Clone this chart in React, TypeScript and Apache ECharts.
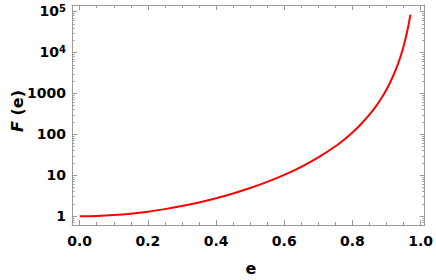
import React, { useEffect, useRef } from "react";
import * as echarts from "echarts";

const eValues = [0, 0.05, 0.1, 0.15, 0.2, 0.25, 0.3, 0.35, 0.4, 0.45, 0.5, 0.55, 0.6, 0.65, 0.7, 0.75, 0.78, 0.8, 0.82, 0.85, 0.87, 0.89, 0.9, 0.91, 0.93, 0.94, 0.95, 0.96, 0.965, 0.97];
const fValues = [1, 1.017, 1.067, 1.157, 1.295, 1.494, 1.776, 2.178, 2.76, 3.6, 4.88, 6.9, 10.2, 16.1, 27.3, 51.1, 79.6, 111, 160, 302, 497, 891, 1243, 1796, 4326, 7414, 14030, 30620, 48870, 83700];

const xMajorTicks = [0, 0.2, 0.4, 0.6, 0.8, 1.0];
const xMinorTicks = [0.05, 0.1, 0.15, 0.25, 0.3, 0.35, 0.45, 0.5, 0.55, 0.65, 0.7, 0.75, 0.85, 0.9, 0.95];
const yMajorTicks = [1, 10, 100, 1000, 10000, 100000];
const yMinorTicks: number[] = [];
[0.1, 1, 10, 100, 1000, 10000].forEach((d) => {
  for (let k = 2; k <= 9; k++) yMinorTicks.push(+(k * d).toPrecision(3));
});

const FONT = "DejaVu Sans";
const FRAME = "#9a9a9a";
const X_MIN = -0.0225;
const X_MAX = 1.012;
const Y_MIN = 0.612;
const Y_MAX = 144000;

function yLabel(v: number): string {
  const r = Math.round(v);
  if (r === 10000) return "{b|10}{s|4}";
  if (r === 100000) return "{b|10}{s|5}";
  return "{b|" + String(r) + "}";
}

export default function App() {
  const ref = useRef<HTMLDivElement>(null);
  useEffect(() => {
    if (!ref.current) return;
    const chart = echarts.init(ref.current, undefined, { renderer: "svg" });
    const xBase = (pos: "top" | "bottom", ticks: number[], len: number, labels: boolean, line: boolean) => ({
      type: "value",
      position: pos,
      min: X_MIN,
      max: X_MAX,
      gridIndex: 0,
      axisLine: { show: line, onZero: false, lineStyle: { color: FRAME, width: 1 } },
      axisTick: { show: true, inside: true, length: len, customValues: ticks, lineStyle: { color: FRAME, width: 1 } },
      axisLabel: labels
        ? {
            show: true,
            customValues: xMajorTicks,
            formatter: (v: number) => v.toFixed(1),
            color: "#000",
            fontFamily: FONT,
            fontWeight: "bold",
            fontSize: 14,
            margin: 9,
          }
        : { show: false },
      splitLine: { show: false },
    });
    const yBase = (pos: "left" | "right", ticks: number[], len: number, labels: boolean, line: boolean) => ({
      type: "log",
      logBase: 10,
      position: pos,
      min: Y_MIN,
      max: Y_MAX,
      gridIndex: 0,
      axisLine: { show: line, onZero: false, lineStyle: { color: FRAME, width: 1 } },
      axisTick: { show: true, inside: true, length: len, customValues: ticks, lineStyle: { color: FRAME, width: 1 } },
      axisLabel: labels
        ? {
            show: true,
            customValues: yMajorTicks,
            formatter: yLabel,
            margin: 6,
            rich: {
              b: { fontFamily: FONT, fontWeight: "bold", fontSize: 14, color: "#000", lineHeight: 16 },
              s: { fontFamily: FONT, fontWeight: "bold", fontSize: 10, color: "#000", lineHeight: 16, verticalAlign: "top", padding: [0, 0, 8, 0] },
            },
          }
        : { show: false },
      splitLine: { show: false },
    });
    chart.setOption({
      animation: false,
      backgroundColor: "#fff",
      grid: { left: 72, top: 5, right: 10, bottom: 55, containLabel: false },
      xAxis: [
        xBase("bottom", xMajorTicks, 5, true, true),
        xBase("bottom", xMinorTicks, 3, false, false),
        xBase("top", xMajorTicks, 5, false, true),
        xBase("top", xMinorTicks, 3, false, false),
      ],
      yAxis: [
        yBase("left", yMajorTicks, 5, true, true),
        yBase("left", yMinorTicks, 2.5, false, false),
        yBase("right", yMajorTicks, 5, false, true),
        yBase("right", yMinorTicks, 2.5, false, false),
      ],
      graphic: [
        {
          type: "text",
          x: 17,
          y: 111,
          rotation: Math.PI / 2,
          style: {
            text: "{i|F} (e)",
            align: "center",
            verticalAlign: "middle",
            rich: {
              i: { fontFamily: FONT, fontWeight: "bold", fontStyle: "italic", fontSize: 16, fill: "#000" },
            },
            fontFamily: FONT,
            fontWeight: "bold",
            fontSize: 16,
            fill: "#000",
          },
        },
        {
          type: "text",
          x: 251,
          y: 268,
          style: {
            text: "e",
            align: "center",
            verticalAlign: "middle",
            fontFamily: FONT,
            fontWeight: "bold",
            fontSize: 16,
            fill: "#000",
          },
        },
      ],
      series: [
        {
          type: "line",
          xAxisIndex: 0,
          yAxisIndex: 0,
          data: eValues.map((e, i) => [e, fValues[i]]),
          showSymbol: false,
          symbol: "none",
          smooth: 0.3,
          lineStyle: { color: "#ff0000", width: 2 },
          clip: true,
        },
      ],
    });
    return () => chart.dispose();
  }, []);
  return <div ref={ref} style={{ width: 436, height: 280, position: "absolute", left: 0, top: 0 }} />;
}
